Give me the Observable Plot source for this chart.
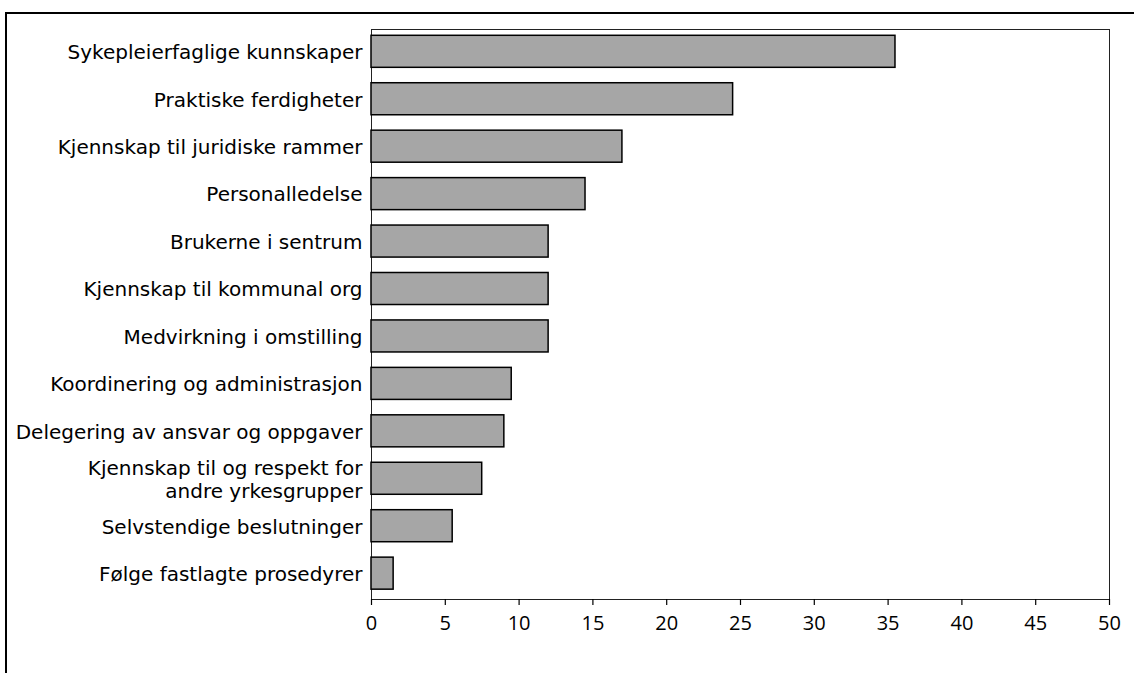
<!DOCTYPE html>
<html>
<head>
<meta charset="utf-8">
<script src="https://cdn.jsdelivr.net/npm/d3@7"></script>
<script src="https://cdn.jsdelivr.net/npm/@observablehq/plot@0.6"></script>
<style>
  html, body { margin: 0; padding: 0; background: #fff; overflow: hidden; }
  #wrap { position: relative; width: 1134px; height: 673px; overflow: hidden; }
  #border { position: absolute; left: 5px; top: 12px; width: 1200px; height: 800px;
            border: 2px solid #000; box-sizing: border-box; }
  #chart { position: absolute; left: 0; top: 0; }
</style>
</head>
<body>
<div id="wrap">
  <div id="border"></div>
  <div id="chart"></div>
</div>
<script>
// Competence areas, top to bottom
const categories = [
  "Sykepleierfaglige kunnskaper",
  "Praktiske ferdigheter",
  "Kjennskap til juridiske rammer",
  "Personalledelse",
  "Brukerne i sentrum",
  "Kjennskap til kommunal org",
  "Medvirkning i omstilling",
  "Koordinering og administrasjon",
  "Delegering av ansvar og oppgaver",
  "Kjennskap til og respekt for\nandre yrkesgrupper",
  "Selvstendige beslutninger",
  "Følge fastlagte prosedyrer"
];
// Percent
const values = [35.5, 24.5, 17, 14.5, 12, 12, 12, 9.5, 9, 7.5, 5.5, 1.5];
const xTicks = [0, 5, 10, 15, 20, 25, 30, 35, 40, 45, 50];

const data = categories.map((c, i) => ({category: c, value: values[i]}));

const chart = Plot.plot({
  width: 1134,
  height: 673,
  marginLeft: 371,
  marginRight: 25,
  marginTop: 29,
  marginBottom: 74,
  style: {fontFamily: "'DejaVu Sans', sans-serif", color: "#000", background: "transparent"},
  x: {domain: [0, 50]},
  y: {domain: categories, paddingInner: 0.325, paddingOuter: 0.17, align: 0.39, round: false},
  marks: [
    Plot.frame({stroke: "#222", strokeWidth: 1}),
    Plot.barX(data, {x: "value", y: "category", fill: "#a6a6a6", stroke: "#000", strokeWidth: 1.5}),
    Plot.ruleY([0], {frameAnchor: "bottom", stroke: "#000", strokeWidth: 1.5}),
    Plot.axisX({ticks: xTicks, tickSize: 6, tickPadding: 10, fontSize: 20,
                fontFamily: "'Open Sans', sans-serif", label: null, stroke: "#000", strokeWidth: 1.2}),
    Plot.axisY({tickSize: 0, tickPadding: 9, fontSize: 20, lineHeight: 1.15, label: null})
  ]
});
document.getElementById("chart").appendChild(chart);
</script>
</body>
</html>
